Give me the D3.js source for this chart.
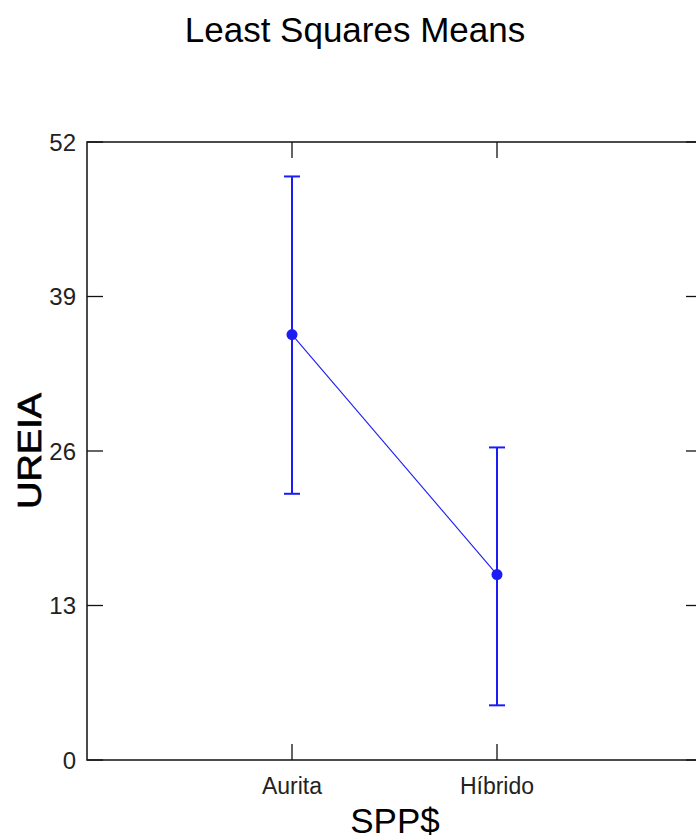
<!DOCTYPE html>
<html>
<head>
<meta charset="utf-8">
<script src="https://cdn.jsdelivr.net/npm/d3@7"></script>
<style>
  body { margin: 0; background: #fff; }
  svg { display: block; font-family: "Liberation Sans", Arial, sans-serif; }
</style>
</head>
<body>
<svg id="chart" width="696" height="840"></svg>
<script>
// least squares means of UREIA per SPP$, with their error bars
const categories = ['Aurita', 'Híbrido'];
const means = [35.8, 15.6];
const lower = [22.4, 4.6];
const upper = [49.1, 26.3];
const yTicks = [0, 13, 26, 39, 52];

const width = 696, height = 840;
const margin = { top: 142, right: -6, bottom: 80, left: 87 };
const tickLen = 16;
const blue = '#1c1cf5';

const svg = d3.select('#chart');

const x = d3.scalePoint()
  .domain(categories)
  .range([margin.left, width - margin.right])
  .padding(1);

const y = d3.scaleLinear()
  .domain([0, 52])
  .range([height - margin.bottom, margin.top]);

const x0 = margin.left, x1 = width - margin.right;
const y0 = height - margin.bottom, y1 = margin.top;

// frame
svg.append('rect')
  .attr('x', x0).attr('y', y1)
  .attr('width', x1 - x0).attr('height', y0 - y1)
  .attr('fill', 'none').attr('stroke', '#111').attr('stroke-width', 1.5);

// ticks all point into the frame
const ticks = svg.append('g').attr('stroke', '#111').attr('stroke-width', 1.3);
ticks.selectAll('.yl').data(yTicks).join('line')
  .attr('x1', x0).attr('x2', x0 + tickLen)
  .attr('y1', d => y(d)).attr('y2', d => y(d));
ticks.selectAll('.yr').data(yTicks).join('line')
  .attr('x1', x1).attr('x2', x1 - tickLen)
  .attr('y1', d => y(d)).attr('y2', d => y(d));
ticks.selectAll('.xb').data(categories).join('line')
  .attr('x1', d => x(d)).attr('x2', d => x(d))
  .attr('y1', y0).attr('y2', y0 - tickLen);
ticks.selectAll('.xt').data(categories).join('line')
  .attr('x1', d => x(d)).attr('x2', d => x(d))
  .attr('y1', y1).attr('y2', y1 + tickLen);

// tick labels
svg.append('g').selectAll('text').data(yTicks).join('text')
  .attr('x', x0 - 11)
  .attr('y', d => y(d))
  .attr('dy', '0.36em')
  .attr('text-anchor', 'end')
  .attr('font-size', 24)
  .attr('fill', '#222')
  .text(d => d);

svg.append('g').selectAll('text').data(categories).join('text')
  .attr('x', d => x(d))
  .attr('y', y0 + 34)
  .attr('text-anchor', 'middle')
  .attr('font-size', 23)
  .attr('fill', '#222')
  .text(d => d);

// titles
svg.append('text')
  .attr('x', 355).attr('y', 42)
  .attr('text-anchor', 'middle')
  .attr('font-size', 35)
  .text('Least Squares Means');

svg.append('text')
  .attr('transform', `translate(41,${(y0 + y1) / 2}) rotate(-90)`)
  .attr('text-anchor', 'middle')
  .attr('font-size', 34)
  .attr('stroke', '#000')
  .attr('stroke-width', 0.7)
  .attr('textLength', 116)
  .attr('lengthAdjust', 'spacingAndGlyphs')
  .text('UREIA');

svg.append('text')
  .attr('x', 395).attr('y', 833)
  .attr('text-anchor', 'middle')
  .attr('font-size', 35)
  .text('SPP$');

// connecting line
svg.append('path')
  .datum(categories)
  .attr('fill', 'none')
  .attr('stroke', blue)
  .attr('stroke-width', 1.1)
  .attr('d', d3.line().x(c => x(c)).y((c, i) => y(means[i])));

// error bars
const bars = svg.append('g').selectAll('g').data(categories).join('g');
bars.append('line')
  .attr('x1', c => x(c)).attr('x2', c => x(c))
  .attr('y1', (c, i) => y(lower[i])).attr('y2', (c, i) => y(upper[i]))
  .attr('stroke', blue).attr('stroke-width', 2);
bars.selectAll('.cap')
  .data((c, i) => [lower[i], upper[i]].map(v => ({ c, v })))
  .join('line')
  .attr('class', 'cap')
  .attr('x1', d => x(d.c) - 8).attr('x2', d => x(d.c) + 8)
  .attr('y1', d => y(d.v)).attr('y2', d => y(d.v))
  .attr('stroke', blue).attr('stroke-width', 2);

// mean markers
svg.append('g').selectAll('circle').data(categories).join('circle')
  .attr('cx', c => x(c))
  .attr('cy', (c, i) => y(means[i]))
  .attr('r', 5.5)
  .attr('fill', blue);
</script>
</body>
</html>
